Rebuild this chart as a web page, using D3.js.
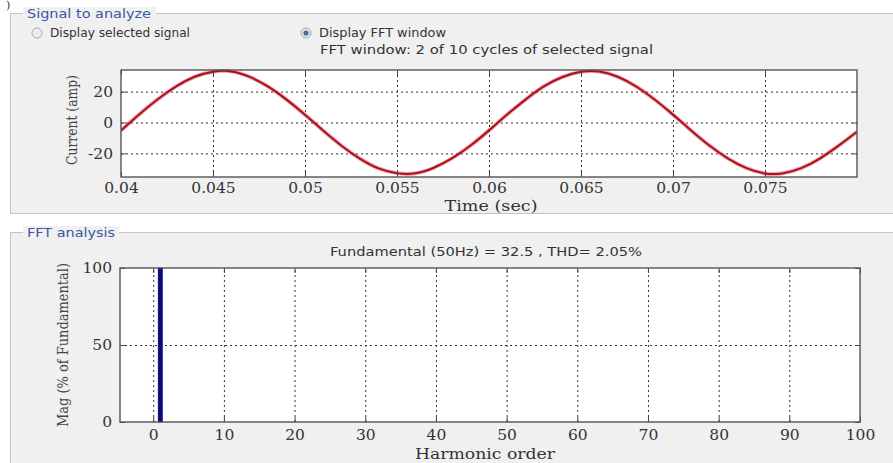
<!DOCTYPE html>
<html>
<head>
<meta charset="utf-8">
<script src="https://cdn.jsdelivr.net/npm/d3@7"></script>
<style>
    body { margin: 0; background: #ffffff; }
    svg { display: block; }
</style>
</head>
<body>
<svg id="chart" width="893" height="463"></svg>
<script>
// signal, one sample per millisecond
let timeSec = [0.040, 0.041, 0.042, 0.043, 0.044, 0.045, 0.046, 0.047, 0.048, 0.049,
               0.050, 0.051, 0.052, 0.053, 0.054, 0.055, 0.056, 0.057, 0.058, 0.059,
               0.060, 0.061, 0.062, 0.063, 0.064, 0.065, 0.066, 0.067, 0.068, 0.069,
               0.070, 0.071, 0.072, 0.073, 0.074, 0.075, 0.076, 0.077, 0.078, 0.079, 0.080];
let currentAmp = [-5.2, 5.4, 15.1, 23.4, 29.6, 32.9, 33.1, 29.5, 23.2, 14.8,
                  5.0, -5.4, -15.2, -23.5, -29.7, -32.8, -32.9, -29.3, -23.1, -14.9,
                  -5.1, 5.3, 15.0, 23.5, 29.5, 32.8, 33.0, 29.6, 23.3, 14.9,
                  5.1, -5.3, -15.1, -23.4, -29.6, -33.0, -32.8, -29.4, -23.2, -15.0, -6.0];
let timeTicks = [0.04, 0.045, 0.05, 0.055, 0.06, 0.065, 0.07, 0.075];
let currentTicks = [-20, 0, 20];

let harmonicOrder = [1];
let harmonicMag = [100];
let harmonicTicks = [0, 10, 20, 30, 40, 50, 60, 70, 80, 90, 100];
let magTicks = [0, 50, 100];

let fundamentalText = 'Fundamental (50Hz) = 32.5 , THD= 2.05%';
let windowText = 'FFT window: 2 of 10 cycles of selected signal';

let svg = d3.select('#chart');
let serif = '"DejaVu Serif", serif';
let sans = '"DejaVu Sans", sans-serif';

// the scan is stretched sideways, so some texts get a fixed length
function label(x, y, str, font, size, color, len) {
    let t = svg.append('text').attr('x', x).attr('y', y).text(str)
        .style('font-family', font).style('font-size', size + 'px').style('fill', color);
    if (len) t.attr('textLength', len).attr('lengthAdjust', 'spacingAndGlyphs');
    return t;
}

// stray glyph at the top left of the scan
label(6, 9, ')', serif, 11, '#333');

function panel(y, h, title, titleWidth, len) {
    svg.append('rect')
        .attr('x', 10.5).attr('y', y + 0.5)
        .attr('width', 900).attr('height', h)
        .style('fill', '#f0f0f0').style('stroke', '#c4c4c4');
    svg.append('rect')
        .attr('x', 23).attr('y', y - 6)
        .attr('width', titleWidth).attr('height', 12)
        .style('fill', '#f0f0f0');
    label(27, y + 4.5, title, sans, 12.5, '#3c55a5', len);
}

panel(13, 200, 'Signal to analyze', 133, 124);
panel(232, 260, 'FFT analysis', 96, 88);

// radio buttons
function radio(cx, cy, str, on, len) {
    svg.append('circle').attr('cx', cx).attr('cy', cy).attr('r', 5)
        .style('fill', on ? '#dfe6ee' : '#ececec').style('stroke', '#a9a9a9');
    if (on) {
        svg.append('circle').attr('cx', cx).attr('cy', cy).attr('r', 2.6)
            .style('fill', '#4a6e95');
    }
    label(cx + 13, cy + 4, str, sans, 11.5, '#333', len);
}
radio(37, 33, 'Display selected signal', false, 140);
radio(306, 33, 'Display FFT window', true, 127);

label(320, 54, windowText, sans, 13, '#333', 333);

function styleGrid(g) {
    g.select('.domain').remove();
    g.selectAll('line').style('stroke', '#333').style('stroke-dasharray', '2,3');
}

function styleAxis(g) {
    g.select('.domain').remove();
    g.selectAll('line').style('stroke', '#444');
    g.selectAll('text').style('font-family', serif).style('font-size', '15.5px').style('fill', '#333');
}

// ---- top plot: current signal ----
let sigBox = { left: 121, right: 857, top: 70, bottom: 177 };
let xTime = d3.scaleLinear().domain([0.04, 0.08]).range([sigBox.left, sigBox.right]);
let yCur = d3.scaleLinear().domain([-35.3, 34]).range([sigBox.bottom, sigBox.top]);

svg.append('rect')
    .attr('x', sigBox.left).attr('y', sigBox.top)
    .attr('width', sigBox.right - sigBox.left).attr('height', sigBox.bottom - sigBox.top)
    .style('fill', '#ffffff');

svg.append('g').attr('transform', `translate(0,${sigBox.bottom})`)
    .call(d3.axisBottom(xTime).tickValues(timeTicks.slice(1)).tickSize(-(sigBox.bottom - sigBox.top)).tickFormat(''))
    .call(styleGrid);
svg.append('g').attr('transform', `translate(${sigBox.left},0)`)
    .call(d3.axisLeft(yCur).tickValues(currentTicks).tickSize(-(sigBox.right - sigBox.left)).tickFormat(''))
    .call(styleGrid);

svg.append('clipPath').attr('id', 'clipSig').append('rect')
    .attr('x', sigBox.left).attr('y', sigBox.top - 1)
    .attr('width', sigBox.right - sigBox.left).attr('height', sigBox.bottom - sigBox.top + 2);

let line = d3.line()
    .x((d, i) => xTime(timeSec[i]))
    .y(d => yCur(d))
    .curve(d3.curveNatural);

svg.append('path').datum(currentAmp)
    .attr('clip-path', 'url(#clipSig)')
    .attr('d', line)
    .style('fill', 'none').style('stroke', '#ee5a6a').style('stroke-width', 4).style('opacity', 0.55);
svg.append('path').datum(currentAmp)
    .attr('clip-path', 'url(#clipSig)')
    .attr('d', line)
    .style('fill', 'none').style('stroke', '#a8121f').style('stroke-width', 2);

svg.append('g').attr('transform', `translate(0,${sigBox.bottom})`)
    .call(d3.axisBottom(xTime).tickValues(timeTicks).tickSizeInner(-5).tickSizeOuter(0).tickPadding(5).tickFormat(d => String(d)))
    .call(styleAxis);
svg.append('g').attr('transform', `translate(0,${sigBox.top})`)
    .call(d3.axisTop(xTime).tickValues(timeTicks).tickSizeInner(-5).tickSizeOuter(0).tickFormat(''))
    .call(styleAxis);
svg.append('g').attr('transform', `translate(${sigBox.left},0)`)
    .call(d3.axisLeft(yCur).tickValues(currentTicks).tickSizeInner(-5).tickSizeOuter(0).tickPadding(8).tickFormat(d => String(d)))
    .call(styleAxis);
svg.append('g').attr('transform', `translate(${sigBox.right},0)`)
    .call(d3.axisRight(yCur).tickValues(currentTicks).tickSizeInner(-5).tickSizeOuter(0).tickFormat(''))
    .call(styleAxis);

svg.append('rect')
    .attr('x', sigBox.left).attr('y', sigBox.top)
    .attr('width', sigBox.right - sigBox.left).attr('height', sigBox.bottom - sigBox.top)
    .style('fill', 'none').style('stroke', '#555').style('stroke-width', 1.4);

label(491, 211, 'Time (sec)', serif, 15.5, '#333', 93).attr('text-anchor', 'middle');
svg.append('text').attr('transform', 'translate(77,120) rotate(-90)').attr('text-anchor', 'middle')
    .attr('textLength', 90).attr('lengthAdjust', 'spacingAndGlyphs')
    .text('Current (amp)')
    .style('font-family', serif).style('font-size', '14.5px').style('fill', '#444');

// ---- bottom plot: harmonic spectrum ----
let fftBox = { left: 120, right: 860, top: 268, bottom: 422 };
let xHarm = d3.scaleLinear().domain([-4.7, 100]).range([fftBox.left, fftBox.right]);
let yMag = d3.scaleLinear().domain([0, 100]).range([fftBox.bottom, fftBox.top]);

label(486, 256, fundamentalText, sans, 13, '#333', 312).attr('text-anchor', 'middle');

svg.append('rect')
    .attr('x', fftBox.left).attr('y', fftBox.top)
    .attr('width', fftBox.right - fftBox.left).attr('height', fftBox.bottom - fftBox.top)
    .style('fill', '#ffffff');

svg.append('g').attr('transform', `translate(0,${fftBox.bottom})`)
    .call(d3.axisBottom(xHarm).tickValues(harmonicTicks.slice(0, -1)).tickSize(-(fftBox.bottom - fftBox.top)).tickFormat(''))
    .call(styleGrid);
svg.append('g').attr('transform', `translate(${fftBox.left},0)`)
    .call(d3.axisLeft(yMag).tickValues([50]).tickSize(-(fftBox.right - fftBox.left)).tickFormat(''))
    .call(styleGrid);

svg.selectAll('.harm')
    .data(harmonicMag)
    .enter()
    .append('rect')
    .attr('class', 'harm')
    .attr('x', (d, i) => xHarm(harmonicOrder[i] - 0.3))
    .attr('y', d => yMag(d))
    .attr('width', (d, i) => xHarm(harmonicOrder[i] + 0.3) - xHarm(harmonicOrder[i] - 0.3))
    .attr('height', d => yMag(0) - yMag(d))
    .style('fill', '#0a0a7a').style('stroke', '#000060').style('stroke-width', 0.6);

svg.append('g').attr('transform', `translate(0,${fftBox.bottom})`)
    .call(d3.axisBottom(xHarm).tickValues(harmonicTicks).tickSizeInner(-5).tickSizeOuter(0).tickPadding(7))
    .call(styleAxis);
svg.append('g').attr('transform', `translate(0,${fftBox.top})`)
    .call(d3.axisTop(xHarm).tickValues(harmonicTicks).tickSizeInner(-5).tickSizeOuter(0).tickFormat(''))
    .call(styleAxis);
svg.append('g').attr('transform', `translate(${fftBox.left},0)`)
    .call(d3.axisLeft(yMag).tickValues(magTicks).tickSizeInner(-5).tickSizeOuter(0).tickPadding(8))
    .call(styleAxis);
svg.append('g').attr('transform', `translate(${fftBox.right},0)`)
    .call(d3.axisRight(yMag).tickValues(magTicks).tickSizeInner(-5).tickSizeOuter(0).tickFormat(''))
    .call(styleAxis);

svg.append('rect')
    .attr('x', fftBox.left).attr('y', fftBox.top)
    .attr('width', fftBox.right - fftBox.left).attr('height', fftBox.bottom - fftBox.top)
    .style('fill', 'none').style('stroke', '#555').style('stroke-width', 1.4);

label(485, 459, 'Harmonic order', serif, 15.5, '#333', 140).attr('text-anchor', 'middle');
svg.append('text').attr('transform', 'translate(68,345) rotate(-90)').attr('text-anchor', 'middle')
    .attr('textLength', 164).attr('lengthAdjust', 'spacingAndGlyphs')
    .text('Mag (% of Fundamental)')
    .style('font-family', serif).style('font-size', '14.5px').style('fill', '#444');
</script>
</body>
</html>
